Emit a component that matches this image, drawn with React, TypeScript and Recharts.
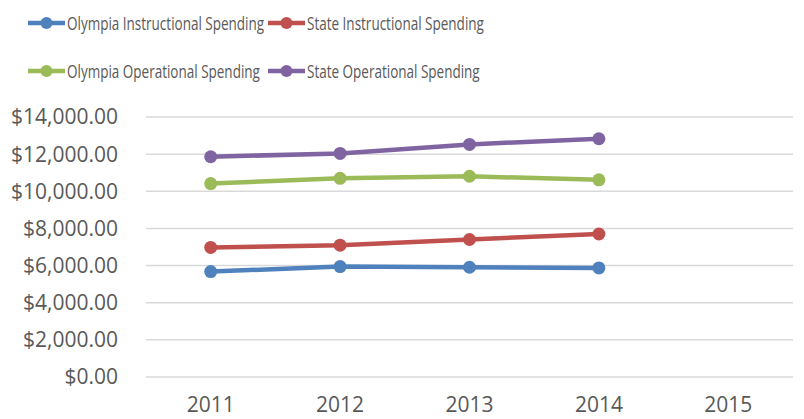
import React from 'react';
import {
  LineChart,
  Line,
  XAxis,
  YAxis,
  CartesianGrid,
  Legend,
} from 'recharts';

const years = ['2011', '2012', '2013', '2014', '2015'];
const olympiaInstructional = [5675, 5945, 5910, 5875, null];
const stateInstructional = [6975, 7100, 7405, 7700, null];
const olympiaOperational = [10415, 10700, 10810, 10615, null];
const stateOperational = [11860, 12040, 12525, 12830, null];
const yTicks = [0, 2000, 4000, 6000, 8000, 10000, 12000, 14000];
const boundaryTicks = [0, 1, 2, 3, 4, 5];

const series = [
  { key: 'oi', name: 'Olympia Instructional Spending', color: '#4f81bd', values: olympiaInstructional },
  { key: 'si', name: 'State Instructional Spending', color: '#c0504d', values: stateInstructional },
  { key: 'oo', name: 'Olympia Operational Spending', color: '#9bbb59', values: olympiaOperational },
  { key: 'so', name: 'State Operational Spending', color: '#8064a2', values: stateOperational },
];

const data = years.map((year, i) => {
  const row: Record<string, string | number | null> = { year };
  series.forEach((s) => {
    row[s.key] = s.values[i];
  });
  return row;
});

const textColor = '#595959';
const gridColor = '#d9d9d9';
const tickFont = "'Open Sans', sans-serif";

const money = (v: number) =>
  '$' + v.toLocaleString('en-US', { minimumFractionDigits: 2, maximumFractionDigits: 2 });

// legend in two rows of two, same order as the series
const renderLegend = () => (
  <div
    style={{
      display: 'grid',
      gridTemplateColumns: '240px 240px',
      rowGap: 22,
      paddingLeft: 28,
      paddingTop: 10,
      fontFamily: tickFont,
      fontSize: 19,
      color: textColor,
    }}
  >
    {series.map((s) => (
      <div key={s.key} style={{ display: 'flex', alignItems: 'center', height: 26 }}>
        <svg width={37} height={14} style={{ marginRight: 2, flexShrink: 0 }}>
          <line x1={0} y1={7} x2={37} y2={7} stroke={s.color} strokeWidth={4.5} />
          <circle cx={18.5} cy={7} r={6} fill={s.color} />
        </svg>
        <span
          style={{
            whiteSpace: 'nowrap',
            display: 'inline-block',
            transform: 'scaleX(0.71)',
            transformOrigin: 'left center',
          }}
        >
          {s.name}
        </span>
      </div>
    ))}
  </div>
);

export default function App() {
  return (
    <div style={{ position: 'absolute', top: 0, left: 0, width: 804, height: 419, background: '#fff' }}>
      <LineChart
        width={804}
        height={419}
        data={data}
        margin={{ top: 117, right: 11, bottom: 0, left: 0 }}
      >
        <CartesianGrid vertical={false} stroke={gridColor} strokeWidth={1.5} />
        <XAxis
          xAxisId="bounds"
          type="number"
          domain={[0, 5]}
          ticks={boundaryTicks}
          tick={false}
          height={0}
          tickSize={7}
          axisLine={{ stroke: gridColor, strokeWidth: 1.5 }}
          tickLine={{ stroke: gridColor, strokeWidth: 1.5 }}
        />
        <XAxis
          dataKey="year"
          scale="band"
          height={42}
          axisLine={false}
          tickLine={false}
          tickSize={0}
          tickMargin={20}
          tick={{ fill: textColor, fontSize: 21, fontFamily: tickFont }}
        />
        <YAxis
          width={146}
          domain={[0, 14000]}
          ticks={yTicks}
          tickFormatter={money}
          axisLine={false}
          tickLine={false}
          tickSize={0}
          tickMargin={28}
          tick={{ fill: textColor, fontSize: 21, fontFamily: tickFont }}
        />
        <Legend
          layout="horizontal"
          verticalAlign="middle"
          align="center"
          wrapperStyle={{ top: 0, left: 0, width: 804 }}
          content={renderLegend}
        />
        {series.map((s) => (
          <Line
            key={s.key}
            dataKey={s.key}
            name={s.name}
            stroke={s.color}
            strokeWidth={4.5}
            dot={{ r: 6.5, fill: s.color, stroke: s.color, strokeWidth: 0 }}
            activeDot={false}
            isAnimationActive={false}
          />
        ))}
      </LineChart>
    </div>
  );
}
